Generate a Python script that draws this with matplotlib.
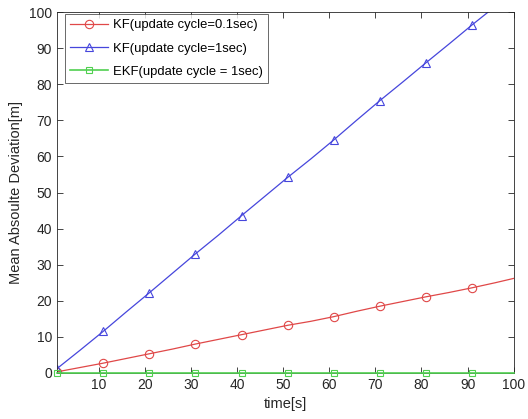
import numpy as np
import matplotlib.pyplot as plt

plt.rcParams['font.family'] = ['Liberation Sans', 'DejaVu Sans']

# time samples (s)
t = [1, 6, 11, 16, 21, 26, 31, 36, 41, 46, 51, 56, 61, 66, 71, 76, 81, 86, 91, 96, 100]
# KF, update cycle 0.1 s
kf01 = [0.3, 1.5, 2.7, 4.0, 5.3, 6.6, 8.0, 9.3, 10.6, 11.9, 13.2, 14.3, 15.6, 17.1, 18.5, 19.8, 21.1, 22.3, 23.6, 25.0, 26.2]
# KF, update cycle 1 s
kf1 = [1.2, 6.3, 11.5, 16.9, 22.2, 27.6, 33.0, 38.2, 43.6, 48.9, 54.2, 59.3, 64.6, 70.1, 75.5, 80.7, 86.0, 91.2, 96.5, 101.6, 105.8]
# EKF, update cycle 1 s
ekf = [0.1, 0.1, 0.1, 0.1, 0.1, 0.1, 0.1, 0.1, 0.1, 0.1, 0.1, 0.1, 0.1, 0.1, 0.1, 0.1, 0.1, 0.1, 0.1, 0.1, 0.1]

fig = plt.figure(figsize=(5.28, 4.19), dpi=100)
ax = fig.add_axes([0.108, 0.110, 0.865, 0.861])

mk = list(range(0, 20, 2))
ax.plot(t, kf01, color='#e04848', lw=0.9, marker='o', mfc='none', ms=6, mew=0.8,
        markevery=mk, label='KF(update cycle=0.1sec)')
ax.plot(t, kf1, color='#4646dc', lw=0.9, marker='^', mfc='none', ms=6, mew=0.8,
        markevery=mk, label='KF(update cycle=1sec)')
ax.plot(t, ekf, color='#50d050', lw=1.2, marker='s', mfc='none', ms=5, mew=0.8,
        markevery=mk, label='EKF(update cycle = 1sec)', clip_on=False, zorder=3)

ax.set_xlim(1, 100)
ax.set_ylim(0, 100)
ax.set_xticks(range(10, 101, 10))
ax.set_yticks(range(0, 101, 10))
ax.tick_params(direction='in', labelsize=10, colors='#262626', length=4, width=0.6,
               top=True, right=True)
for s in ax.spines.values():
    s.set_color('#262626')
    s.set_linewidth(0.6)
ax.set_xlabel('time[s]', fontsize=10.5, color='#262626')
ax.set_ylabel('Mean Absoulte Deviation[m]', fontsize=10.5, color='#262626')

leg = ax.legend(loc='upper left', bbox_to_anchor=(0.018, 0.995), fontsize=9.4,
                fancybox=False, edgecolor='#262626', borderaxespad=0,
                handlelength=2.9, labelspacing=0.85, borderpad=0.4,
                handletextpad=0.35)
leg.get_frame().set_linewidth(0.6)

fig.savefig('out.png', dpi=100)
